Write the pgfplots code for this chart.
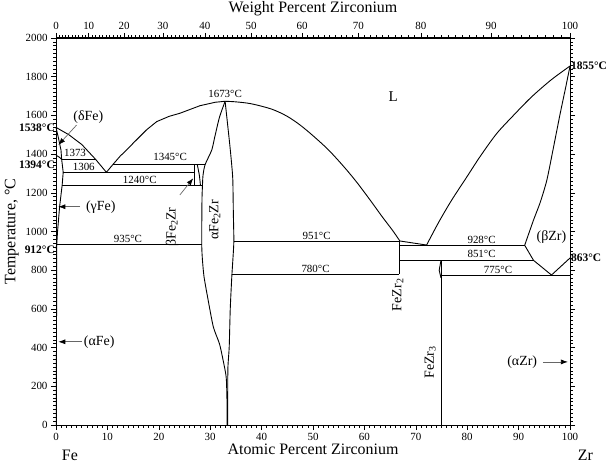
\documentclass[border=0pt]{standalone}
\usepackage{pgfplots}
\pgfplotsset{compat=1.18}
\usepackage{fontspec}
\setmainfont{Liberation Serif}
\usetikzlibrary{arrows.meta}
\begin{document}
\begin{tikzpicture}
\useasboundingbox (-56bp,-40bp) rectangle (554bp,425bp);
\pgfplotsset{
  common/.style={at={(0,0)}, anchor=south west, scale only axis, width=514bp, height=387bp,
    xmin=0, xmax=100, ymin=0, ymax=2000, tick align=outside,
    major tick length=5bp, minor tick length=2.5bp,
    tick style={black, line width=0.6pt},
    axis line style={line width=1pt},
    /pgf/number format/assume math mode=true,
    /pgf/number format/1000 sep={},
    tick label style={font=\fontsize{11}{13}\selectfont},
    label style={font=\fontsize{16}{19}\selectfont}},
  phase/.style={black, line width=0.9pt, no marks},
}
\begin{axis}[common,
  axis x line*=top, axis y line=none,
  x coord trafo/.code={\pgfmathparse{100*(#1/91.224)/((#1/91.224)+((100-#1)/55.845))}},
  xtick={0,10,20,30,40,50,60,70,80,90,100},
  xticklabels={0,10,20,30,40,50,60,70,80,90,100},
  minor xtick={0,1,...,100},
  xlabel={Weight Percent Zirconium},
  xlabel style={at={(axis description cs:0.5,1)}, anchor=center, yshift=29bp},
]
\end{axis}
\begin{axis}[common,
  xtick={0,10,...,100}, ytick={0,200,...,2000},
  minor x tick num=9, minor y tick num=9,
  xtick pos=left, ytick pos=both,
  xlabel={Atomic Percent Zirconium},
  xlabel style={at={(axis description cs:0.5,0)}, anchor=center, yshift=-24bp},
  clip=false,
]
% Fe-side liquidus
\addplot[phase] coordinates {(0,1538) (2.5,1500) (5,1450) (7.7,1373) (9.8,1306) (11.1,1347) (12.5,1390) (13.5,1415) (15,1456) (17.6,1525) (19.6,1568) (22,1595) (24.1,1611) (28,1650) (31,1668) (32.9,1673)};
% right liquidus
\addplot[phase, smooth, tension=0.5] coordinates {(32.9,1673) (35,1670) (38,1660) (42,1632) (45,1595) (47.5,1550) (50,1495) (53,1422) (56,1335) (58.5,1255) (61.1,1163) (63.5,1075) (65.5,1005) (66.9,951)};
\addplot[phase] coordinates {(66.9,951) (72.1,930)};
% Zr-side liquidus
\addplot[phase, smooth, tension=0.5] coordinates {(72.1,930) (74.5,1050) (77,1163) (80,1285) (82.5,1387) (85.7,1505) (89,1600) (92.5,1695) (96.4,1785) (100,1855)};
% Zr solidus & beta boundary
\addplot[phase, smooth, tension=0.4] coordinates {(100,1855) (99.2,1750) (98.1,1611) (96.9,1450) (95.5,1266) (94.2,1150) (92.9,1059) (91.2,930)};
\addplot[phase] coordinates {(91.2,928) (92.9,851) (96.4,775) (100,863)};
% delta / gamma Fe
\addplot[phase] coordinates {(0,1538) (0.5,1480) (0.97,1421) (1.1,1373)};
\addplot[phase] coordinates {(0,1394) (0.6,1385) (1.1,1373) (1.4,1306) (1.2,1240) (0.7,1128) (0.3,1000) (0.15,935) (0,912)};
\addplot[phase] coordinates {(0.15,935) (0.1,500) (0.05,0)};
% horizontals
\addplot[phase] coordinates {(1.1,1373) (7.7,1373)};
\addplot[phase] coordinates {(1.4,1306) (27.0,1306)};
\addplot[phase] coordinates {(11.1,1345) (29.0,1345)};
\addplot[phase] coordinates {(1.2,1240) (28.5,1240)};
\addplot[phase] coordinates {(0.15,935) (28.35,935)};
\addplot[phase] coordinates {(34.6,951) (66.9,951)};
\addplot[phase] coordinates {(34.2,780) (66.8,780)};
\addplot[phase] coordinates {(66.8,928) (91.2,928)};
\addplot[phase] coordinates {(66.8,851) (92.9,851)};
\addplot[phase] coordinates {(74.9,775) (100,775)};
% beta Fe2Zr
\addplot[phase] coordinates {(27.0,1345) (27.0,1240)};
\addplot[phase] coordinates {(27.5,1345) (27.9,1290) (28.1,1240)};
% alpha Fe2Zr
\addplot[phase, smooth, tension=0.4] coordinates {(32.9,1673) (31.8,1590) (30.9,1490) (30.3,1421) (29.0,1345) (28.6,1290) (28.5,1240) (28.4,1163) (28.35,935) (28.5,850) (28.8,766) (29.5,660) (30.6,508) (31.8,420) (32.5,336) (33.1,250) (33.25,150) (33.3,0)};
\addplot[phase, smooth, tension=0.4] coordinates {(32.9,1673) (33.4,1550) (33.85,1438) (34.2,1340) (34.4,1266) (34.5,1100) (34.6,951) (34.4,850) (34.2,766) (33.9,600) (33.7,404) (33.45,300) (33.4,150) (33.4,0)};
% FeZr2, FeZr3
\addplot[phase] coordinates {(66.8,951) (66.8,780)};
\addplot[phase] coordinates {(74.9,851) (74.9,0)};
\addplot[phase] coordinates {(74.9,851) (74.55,800) (74.9,760)};
% labels
\def\sm{\fontsize{11}{13}\selectfont}
\def\md{\fontsize{14}{16}\selectfont}
\node[font=\sm] at (axis cs:3.7,1404) {1373};
\node[font=\sm] at (axis cs:5.4,1335) {1306};
\node[font=\sm] at (axis cs:22.2,1383) {1345°C};
\node[font=\sm] at (axis cs:16.3,1266) {1240°C};
\node[font=\sm] at (axis cs:14,962) {935°C};
\node[font=\sm] at (axis cs:50.7,975) {951°C};
\node[font=\sm] at (axis cs:50.5,805) {780°C};
\node[font=\sm] at (axis cs:82.8,956) {928°C};
\node[font=\sm] at (axis cs:82.8,884) {851°C};
\node[font=\sm] at (axis cs:86.0,801) {775°C};
\node[font=\sm] at (axis cs:32.9,1711) {1673°C};
\node[font=\fontsize{15}{18}\selectfont] at (axis cs:65.6,1695) {L};
\node[font=\md] at (axis cs:96.4,973) {(βZr)};
\node[font=\md] at (axis cs:6.3,1593) {(δFe)};
\node[font=\md] at (axis cs:8.7,1128) {(γFe)};
\node[font=\md] at (axis cs:8.4,430) {(αFe)};
\node[font=\md] at (axis cs:90.7,326) {(αZr)};
\node[font=\md, rotate=90] at (axis cs:22.6,1023) {βFe\raisebox{-0.3ex}{\fontsize{10}{12}\selectfont 2}Zr};
\node[font=\md, rotate=90] at (axis cs:30.9,1060) {αFe\raisebox{-0.3ex}{\fontsize{10}{12}\selectfont 2}Zr};
\node[font=\md, rotate=90] at (axis cs:66.5,672) {FeZr\raisebox{-0.3ex}{\fontsize{10}{12}\selectfont 2}};
\node[font=\md, rotate=90] at (axis cs:72.8,323) {FeZr\raisebox{-0.3ex}{\fontsize{10}{12}\selectfont 3}};
\draw[black!60, line width=0.7pt, -{Latex[length=7bp,width=5bp,black]}] (axis cs:4.0,1550) -- (axis cs:0.45,1447);
\draw[black!60, line width=0.7pt, -{Latex[length=7bp,width=5bp,black]}] (axis cs:4.7,1128) -- (axis cs:0.45,1128);
\draw[black!60, line width=0.7pt, -{Latex[length=7bp,width=5bp,black]}] (axis cs:5.0,430) -- (axis cs:0.45,430);
\draw[black!60, line width=0.7pt, -{Latex[length=7bp,width=5bp,black]}] (axis cs:94.7,326) -- (axis cs:99.6,326);
\draw[black!60, line width=0.7pt, -{Latex[length=7bp,width=5bp,black]}] (axis cs:24.1,1189) -- (axis cs:26.7,1275);
% bold temperature labels
\def\bd{\bfseries\fontsize{11.5}{13}\selectfont}
\node[font=\bd, anchor=east, inner sep=1bp] at (axis cs:0,1538) {1538°C};
\node[font=\bd, anchor=east, inner sep=1bp] at (axis cs:0,1343) {1394°C};
\node[font=\bd, anchor=east, inner sep=1bp] at (axis cs:0,905) {912°C};
\node[font=\bd, anchor=west, inner sep=1bp] at (axis cs:100,1855) {1855°C};
\node[font=\bd, anchor=west, inner sep=1bp] at (axis cs:100,863) {863°C};
\node[font=\fontsize{16}{19}\selectfont, rotate=90] at (axis cs:-8.6,1000) {Temperature, °C};
\node[font=\fontsize{16}{19}\selectfont] at (axis cs:2.7,-155) {Fe};
\node[font=\fontsize{16}{19}\selectfont] at (axis cs:103,-155) {Zr};
\end{axis}
\end{tikzpicture}
\end{document}
